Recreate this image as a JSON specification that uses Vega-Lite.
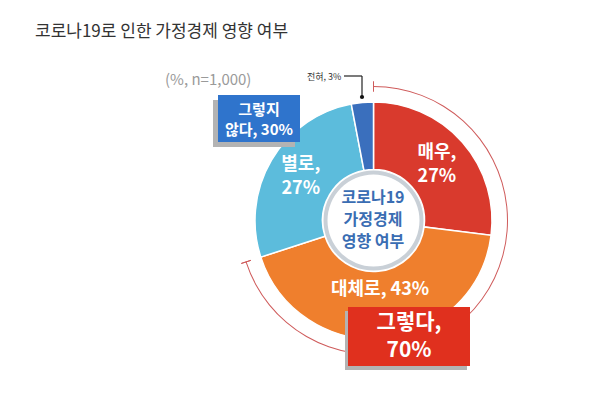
{
  "$schema": "https://vega.github.io/schema/vega-lite/v6.json",
  "width": 600,
  "height": 396,
  "autosize": {"type": "fit", "contains": "padding"},
  "padding": 0,
  "background": "white",
  "config": {"view": {"stroke": null}, "font": "Noto Sans CJK KR"},
  "datasets": {
    "seg": [
      {"cat": "매우", "pct": 27, "ord": 1, "label": "매우,\n27%"},
      {"cat": "대체로", "pct": 43, "ord": 2, "label": "대체로, 43%"},
      {"cat": "별로", "pct": 27, "ord": 3, "label": "별로,\n27%"},
      {"cat": "전혀", "pct": 3, "ord": 4, "label": ""}
    ]
  },
  "layer": [
    {
      "data": {"name": "seg"},
      "mark": {"type": "arc", "radius": 118.5, "radius2": 51, "stroke": "white", "strokeWidth": 1.5},
      "encoding": {
        "x": {"datum": 373.5, "type": "quantitative", "scale": {"domain": [0, 600]}, "axis": null},
        "y": {"datum": 220.5, "type": "quantitative", "scale": {"domain": [0, 396], "reverse": true}, "axis": null},
        "theta": {"field": "pct", "type": "quantitative", "stack": true, "scale": {"domain": [0, 100]}},
        "order": {"field": "ord"},
        "color": {"field": "cat", "type": "nominal", "scale": {"domain": ["매우", "대체로", "별로", "전혀"], "range": ["#d93a2d", "#ef7f2d", "#5cbcdc", "#3a6fbd"]}, "legend": null}
      }
    },
    {
      "data": {"values": [{"ring": 1}]},
      "mark": {"type": "arc", "radius": 50, "radius2": 46, "theta": 0, "theta2": 6.2832, "color": "#c9d0d7"},
      "encoding": {
        "x": {"datum": 373.5, "type": "quantitative", "scale": {"domain": [0, 600]}, "axis": null},
        "y": {"datum": 220.5, "type": "quantitative", "scale": {"domain": [0, 396], "reverse": true}, "axis": null}
      }
    },
    {
      "data": {"values": [{"s": 0, "e": 70}]},
      "mark": {"type": "arc", "radius": 134.5, "radius2": 133.5, "color": "#cf5b5b"},
      "encoding": {
        "x": {"datum": 373.5, "type": "quantitative", "scale": {"domain": [0, 600]}, "axis": null},
        "y": {"datum": 220.5, "type": "quantitative", "scale": {"domain": [0, 396], "reverse": true}, "axis": null},
        "theta": {"field": "s", "type": "quantitative", "stack": null, "scale": {"domain": [0, 100]}},
        "theta2": {"field": "e"}
      }
    },
    {
      "data": {"values": [{"t": 0}, {"t": 70}]},
      "mark": {"type": "arc", "radius": 139, "radius2": 129, "fillOpacity": 0, "stroke": "#cf5b5b", "strokeWidth": 1},
      "encoding": {
        "x": {"datum": 373.5, "type": "quantitative", "scale": {"domain": [0, 600]}, "axis": null},
        "y": {"datum": 220.5, "type": "quantitative", "scale": {"domain": [0, 396], "reverse": true}, "axis": null},
        "theta": {"field": "t", "type": "quantitative", "stack": null, "scale": {"domain": [0, 100]}},
        "theta2": {"field": "t"}
      }
    },
    {
      "data": {"name": "seg"},
      "mark": {"type": "text", "radius": 84.5, "dy": -12, "color": "white", "fontSize": 18, "fontWeight": "bold", "lineBreak": "\n", "lineHeight": 24, "align": "center", "baseline": "middle"},
      "encoding": {
        "x": {"datum": 373.5, "type": "quantitative", "scale": {"domain": [0, 600]}, "axis": null},
        "y": {"datum": 220.5, "type": "quantitative", "scale": {"domain": [0, 396], "reverse": true}, "axis": null},
        "theta": {"field": "pct", "type": "quantitative", "stack": true, "scale": {"domain": [0, 100]}},
        "order": {"field": "ord"},
        "text": {"field": "label", "condition": {"test": "datum.cat === '대체로'", "value": ""}}
      }
    },
    {
      "data": {"name": "seg"},
      "mark": {"type": "text", "radius": 70, "color": "white", "fontSize": 18, "fontWeight": "bold", "align": "center", "baseline": "middle"},
      "encoding": {
        "x": {"datum": 373.5, "type": "quantitative", "scale": {"domain": [0, 600]}, "axis": null},
        "y": {"datum": 220.5, "type": "quantitative", "scale": {"domain": [0, 396], "reverse": true}, "axis": null},
        "theta": {"field": "pct", "type": "quantitative", "stack": true, "scale": {"domain": [0, 100]}},
        "order": {"field": "ord"},
        "text": {"field": "label", "condition": {"test": "datum.cat !== '대체로'", "value": ""}}
      }
    },
    {
      "data": {"values": [{"x": 373, "y": 198, "text": "코로나19\n가정경제\n영향 여부"}]},
      "mark": {"type": "text", "color": "#3a6db3", "fontSize": 16, "fontWeight": "bold", "lineBreak": "\n", "lineHeight": 22, "align": "center", "baseline": "middle"},
      "encoding": {
        "x": {"field": "x", "type": "quantitative", "scale": {"domain": [0, 600]}, "axis": null},
        "y": {"field": "y", "type": "quantitative", "scale": {"domain": [0, 396], "reverse": true}, "axis": null},
        "text": {"field": "text"}
      }
    },
    {
      "data": {"values": [{"x": 344, "x2": 362, "y": 76, "y2": 76}, {"x": 362, "x2": 362, "y": 76, "y2": 97}]},
      "mark": {"type": "rule", "color": "#222", "strokeWidth": 1.2},
      "encoding": {
        "x": {"field": "x", "type": "quantitative", "scale": {"domain": [0, 600]}, "axis": null},
        "x2": {"field": "x2"},
        "y": {"field": "y", "type": "quantitative", "scale": {"domain": [0, 396], "reverse": true}, "axis": null},
        "y2": {"field": "y2"}
      }
    },
    {
      "data": {"values": [{"x": 362, "y": 97}]},
      "mark": {"type": "point", "filled": true, "color": "#111", "size": 18, "opacity": 1},
      "encoding": {
        "x": {"field": "x", "type": "quantitative", "scale": {"domain": [0, 600]}, "axis": null},
        "y": {"field": "y", "type": "quantitative", "scale": {"domain": [0, 396], "reverse": true}, "axis": null}
      }
    },
    {
      "data": {"values": [{"x": 307, "y": 77, "text": "전혀, 3%"}]},
      "mark": {"type": "text", "color": "#333", "fontSize": 9, "align": "left", "baseline": "middle"},
      "encoding": {
        "x": {"field": "x", "type": "quantitative", "scale": {"domain": [0, 600]}, "axis": null},
        "y": {"field": "y", "type": "quantitative", "scale": {"domain": [0, 396], "reverse": true}, "axis": null},
        "text": {"field": "text"}
      }
    },
    {
      "data": {"values": [{"x": 213, "x2": 295, "y": 100, "y2": 147}, {"x": 345, "x2": 467, "y": 311, "y2": 370}]},
      "mark": {"type": "rect", "color": "#b3b3b3"},
      "encoding": {
        "x": {"field": "x", "type": "quantitative", "scale": {"domain": [0, 600]}, "axis": null},
        "x2": {"field": "x2"},
        "y": {"field": "y", "type": "quantitative", "scale": {"domain": [0, 396], "reverse": true}, "axis": null},
        "y2": {"field": "y2"}
      }
    },
    {
      "data": {"values": [{"x": 218, "x2": 300, "y": 95, "y2": 142}]},
      "mark": {"type": "rect", "color": "#2f74cc"},
      "encoding": {
        "x": {"field": "x", "type": "quantitative", "scale": {"domain": [0, 600]}, "axis": null},
        "x2": {"field": "x2"},
        "y": {"field": "y", "type": "quantitative", "scale": {"domain": [0, 396], "reverse": true}, "axis": null},
        "y2": {"field": "y2"}
      }
    },
    {
      "data": {"values": [{"x": 348, "x2": 470, "y": 307, "y2": 366}]},
      "mark": {"type": "rect", "color": "#e0301e"},
      "encoding": {
        "x": {"field": "x", "type": "quantitative", "scale": {"domain": [0, 600]}, "axis": null},
        "x2": {"field": "x2"},
        "y": {"field": "y", "type": "quantitative", "scale": {"domain": [0, 396], "reverse": true}, "axis": null},
        "y2": {"field": "y2"}
      }
    },
    {
      "data": {"values": [{"x": 259, "y": 110, "text": "그렇지\n않다, 30%"}]},
      "mark": {"type": "text", "color": "white", "fontSize": 15, "fontWeight": "bold", "lineBreak": "\n", "lineHeight": 20, "align": "center", "baseline": "middle"},
      "encoding": {
        "x": {"field": "x", "type": "quantitative", "scale": {"domain": [0, 600]}, "axis": null},
        "y": {"field": "y", "type": "quantitative", "scale": {"domain": [0, 396], "reverse": true}, "axis": null},
        "text": {"field": "text"}
      }
    },
    {
      "data": {"values": [{"x": 409, "y": 323, "text": "그렇다,\n70%"}]},
      "mark": {"type": "text", "color": "white", "fontSize": 21, "fontWeight": "bold", "lineBreak": "\n", "lineHeight": 28, "align": "center", "baseline": "middle"},
      "encoding": {
        "x": {"field": "x", "type": "quantitative", "scale": {"domain": [0, 600]}, "axis": null},
        "y": {"field": "y", "type": "quantitative", "scale": {"domain": [0, 396], "reverse": true}, "axis": null},
        "text": {"field": "text"}
      }
    },
    {
      "data": {"values": [{"x": 35, "y": 32, "text": "코로나19로 인한 가정경제 영향 여부"}]},
      "mark": {"type": "text", "color": "#333", "fontSize": 17, "align": "left", "baseline": "middle"},
      "encoding": {
        "x": {"field": "x", "type": "quantitative", "scale": {"domain": [0, 600]}, "axis": null},
        "y": {"field": "y", "type": "quantitative", "scale": {"domain": [0, 396], "reverse": true}, "axis": null},
        "text": {"field": "text"}
      }
    },
    {
      "data": {"values": [{"x": 165, "y": 80, "text": "(%, n=1,000)"}]},
      "mark": {"type": "text", "color": "#9a9a9a", "fontSize": 15, "align": "left", "baseline": "middle"},
      "encoding": {
        "x": {"field": "x", "type": "quantitative", "scale": {"domain": [0, 600]}, "axis": null},
        "y": {"field": "y", "type": "quantitative", "scale": {"domain": [0, 396], "reverse": true}, "axis": null},
        "text": {"field": "text"}
      }
    }
  ]
}
